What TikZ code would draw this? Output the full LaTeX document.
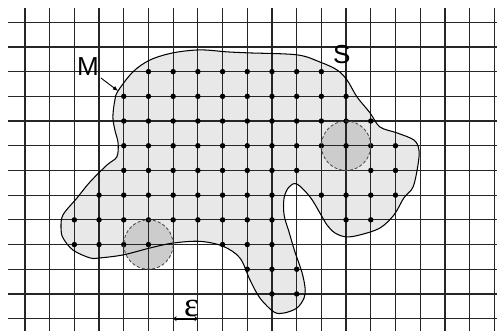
\documentclass[tikz,border=0pt]{standalone}
\usepackage{fontspec}
\setsansfont{Liberation Sans}
\newfontfamily\epsfont{Liberation Serif}
\usepackage{tikz}
\usetikzlibrary{arrows.meta,positioning,calc}

\begin{document}
\begin{tikzpicture}[
    x=0.5cm, y=0.5cm,
    % --- STYLES ---
    gridline/.style={line width=0.7pt, black!85},
    region/.style={fill=black!9, draw=none},
    border/.style={line width=0.6pt, black},
    ball/.style={fill=black!20, draw=none},
    ballrim/.style={line width=0.5pt, black!70, dash pattern=on 1.8pt off 1.2pt},
    gridpt/.style={fill=black},
    setlabel/.style={font=\sffamily\fontsize{15}{18}\selectfont, inner sep=1pt},
    pointer/.style={-{Latex[length=3pt,width=2.5pt]}, line width=0.5pt},
    dimline/.style={{Stealth[length=2pt,width=3pt]}-{Stealth[length=2pt,width=3pt]}, line width=1pt}
]

% ===== 1. FRAME =====
\useasboundingbox (-1.01,0.9) rectangle (19.11,-12.5);

% ===== 2. SET S =====
\coordinate (mpt) at (3.77,-2.78);
\path[region] plot[smooth cycle, tension=0.55] coordinates {
    (3.77,-2.78) (4.37,-2.01) (5.06,-1.53) (5.99,-1.24) (7.09,-1.12)
    (8.18,-1.20) (9.03,-1.24) (11.01,-1.32) (11.94,-1.61) (12.63,-1.93)
    (13.04,-2.34) (13.44,-3.02) (13.97,-3.67) (14.37,-4.24) (15.06,-4.48)
    (15.75,-4.77) (15.95,-5.17) (15.91,-5.78) (15.71,-6.67) (15.34,-7.11)
    (14.94,-7.80) (14.37,-8.33) (13.56,-8.61) (13.00,-8.69) (12.55,-8.53)
    (12.23,-8.21) (11.94,-7.72) (11.54,-7.07) (11.01,-6.55) (10.69,-6.67)
    (10.49,-7.11) (10.49,-7.80) (10.69,-8.49) (10.93,-9.30) (11.21,-10.11)
    (11.34,-10.76) (11.30,-11.16) (11.01,-11.57) (10.49,-11.77) (10.08,-11.73)
    (9.51,-11.16) (9.11,-10.43) (8.70,-9.54) (8.02,-9.07) (7.09,-8.87)
    (5.99,-8.94) (5.06,-9.14) (3.97,-9.42) (3.04,-9.54) (2.63,-9.54)
    (1.94,-9.22) (1.54,-8.73) (1.46,-8.33) (1.54,-7.80) (2.11,-7.11)
    (2.63,-6.47) (3.32,-5.78) (3.72,-5.45) (3.77,-4.89) (3.64,-4.36)
    (3.56,-3.83) (3.64,-3.15)};

% epsilon balls
\fill[ball] (13,-5) circle (1);
\fill[ball] (5,-9) circle (1);

% ===== 3. GRID =====
\foreach \j in {0,...,12}
    \draw[gridline] (-0.68,-\j) -- (19.11,-\j);
\foreach \i in {0,...,19}
    \draw[gridline] (\i,0.57) -- (\i,-12.5);

% outline of S
\draw[border] plot[smooth cycle, tension=0.55] coordinates {
    (3.77,-2.78) (4.37,-2.01) (5.06,-1.53) (5.99,-1.24) (7.09,-1.12)
    (8.18,-1.20) (9.03,-1.24) (11.01,-1.32) (11.94,-1.61) (12.63,-1.93)
    (13.04,-2.34) (13.44,-3.02) (13.97,-3.67) (14.37,-4.24) (15.06,-4.48)
    (15.75,-4.77) (15.95,-5.17) (15.91,-5.78) (15.71,-6.67) (15.34,-7.11)
    (14.94,-7.80) (14.37,-8.33) (13.56,-8.61) (13.00,-8.69) (12.55,-8.53)
    (12.23,-8.21) (11.94,-7.72) (11.54,-7.07) (11.01,-6.55) (10.69,-6.67)
    (10.49,-7.11) (10.49,-7.80) (10.69,-8.49) (10.93,-9.30) (11.21,-10.11)
    (11.34,-10.76) (11.30,-11.16) (11.01,-11.57) (10.49,-11.77) (10.08,-11.73)
    (9.51,-11.16) (9.11,-10.43) (8.70,-9.54) (8.02,-9.07) (7.09,-8.87)
    (5.99,-8.94) (5.06,-9.14) (3.97,-9.42) (3.04,-9.54) (2.63,-9.54)
    (1.94,-9.22) (1.54,-8.73) (1.46,-8.33) (1.54,-7.80) (2.11,-7.11)
    (2.63,-6.47) (3.32,-5.78) (3.72,-5.45) (3.77,-4.89) (3.64,-4.36)
    (3.56,-3.83) (3.64,-3.15)};

% ===== 4. GRID POINTS INSIDE S =====
\foreach \j/\row in {2/{5,...,12}, 3/{4,...,13}, 4/{4,...,14}, 5/{4,...,15},
                     6/{4,...,11,14,15}, 7/{3,...,10,12,13,14,15},
                     8/{2,...,10,13,14}, 9/{2,3,4,5,8,9,10},
                     10/{9,10,11}, 11/{10,11}}
    \foreach \i in \row
        \fill[gridpt] (\i,-\j) circle (0.11);

\draw[ballrim] (13,-5) circle (1);
\draw[ballrim] (5,-9) circle (1);

% ===== 5. LABELS =====
\node[setlabel] (lblM) at (2.55,-1.81) {M};
\node[setlabel] (lblS) at (12.83,-1.30) {S};
\draw[pointer] (lblM.south east) -- (mpt);

% step width
\coordinate (eps1) at (6,-12);
\coordinate (eps2) at (7,-12);
\draw[dimline] (eps1) -- (eps2);
\node[font=\epsfont\fontsize{20}{24}\selectfont, inner sep=0pt] (lblEps) at (6.74,-11.6) {ε};

\end{tikzpicture}
\end{document}
